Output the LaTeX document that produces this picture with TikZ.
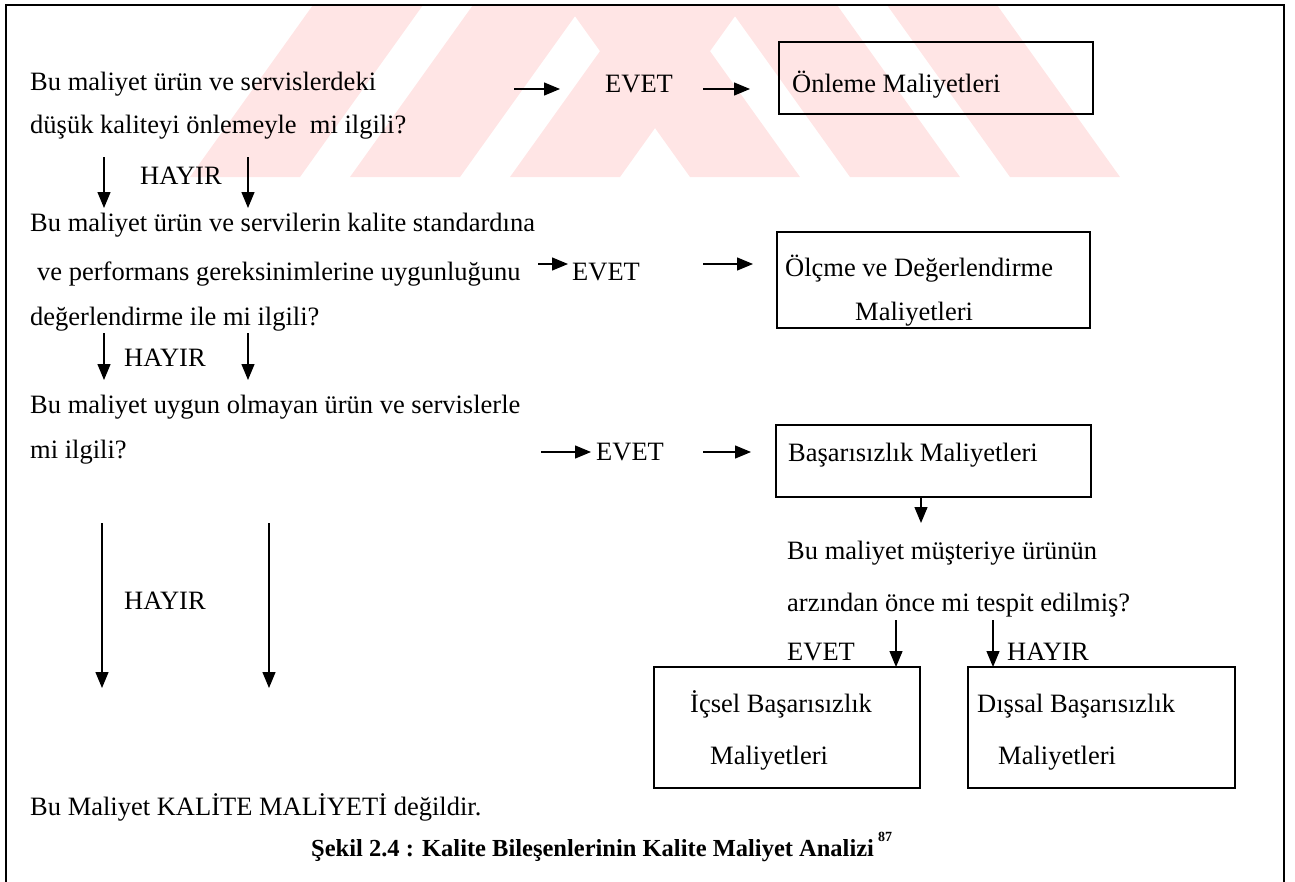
\documentclass[tikz,border=0pt]{standalone}
\usepackage{fontspec}
\setmainfont{Liberation Serif}
\usetikzlibrary{arrows.meta}
\begin{document}
\begin{tikzpicture}[x=1pt,y=-1pt,
  txt/.style={anchor=base west, inner sep=0pt, font=\fontsize{26.5}{31}\selectfont},
  capt/.style={anchor=base west, inner sep=0pt, font=\fontsize{24.5}{30}\selectfont\bfseries},
  box/.style={draw, line width=1.6pt},
  flow/.style={line width=1.3pt, -{Triangle[length=16pt,width=13pt]}},
  frameline/.style={line width=2pt},
  wmstripe/.style={fill=red!10}]
\useasboundingbox (0,0) rectangle (1295,881);

% faint background stripes
\foreach \l in {190,350,510}
  \fill[wmstripe] (\l,177) -- ++(110,0) -- ++(123,-172) -- ++(-110,0) -- cycle;
\foreach \r in {800,960,1120}
  \fill[wmstripe] (\r,177) -- ++(-110,0) -- ++(-123,-172) -- ++(110,0) -- cycle;

% outer frame (open at the bottom)
\draw[frameline] (6,900) -- (6,5) -- (1284,5) -- (1284,900);

% left column of questions
\node[txt] (q1a) at (30,90) {Bu maliyet ürün ve servislerdeki};
\node[txt] (q1b) at (30,133) {düşük kaliteyi önlemeyle\ \ mi ilgili?};
\node[txt] (h1) at (140,184) {HAYIR};
\node[txt] (q2a) at (30,231) {Bu maliyet ürün ve servilerin kalite standardına};
\node[txt] (q2b) at (37,280) {ve performans gereksinimlerine uygunluğunu};
\node[txt] (q2c) at (30,325) {değerlendirme ile mi ilgili?};
\node[txt] (h2) at (124,366) {HAYIR};
\node[txt] (q3a) at (30,413) {Bu maliyet uygun olmayan ürün ve servislerle};
\node[txt] (q3b) at (30,458) {mi ilgili?};
\node[txt] (h3) at (124,609) {HAYIR};
\node[txt] (none) at (30,815) {Bu Maliyet KALİTE MALİYETİ değildir.};

% YES labels
\node[txt] (e1) at (605,92) {EVET};
\node[txt] (e2) at (572,280) {EVET};
\node[txt] (e3) at (596,460) {EVET};

% cost boxes
\draw[box] (779,42) rectangle (1093,114);
\node[txt] (onl) at (792,92) {Önleme Maliyetleri};
\draw[box] (777,232) rectangle (1090,328);
\node[txt] (olc) at (785,276) {Ölçme ve Değerlendirme};
\node[txt] (olc2) at (855,320) {Maliyetleri};
\draw[box] (776,425) rectangle (1091,497);
\node[txt] (bas) at (788,461) {Başarısızlık Maliyetleri};

% failure sub-question
\node[txt] (q4a) at (787,559) {Bu maliyet müşteriye ürünün};
\node[txt] (q4b) at (787,611) {arzından önce mi tespit edilmiş?};
\node[txt] (e4) at (787,660) {EVET};
\node[txt] (h4) at (1007,660) {HAYIR};
\draw[box] (654,667) rectangle (920,788);
\node[txt] (ic) at (690,712) {İçsel Başarısızlık};
\node[txt] (ic2) at (710,764) {Maliyetleri};
\draw[box] (968,667) rectangle (1235,788);
\node[txt] (dis) at (977,712) {Dışsal Başarısızlık};
\node[txt] (dis2) at (998,764) {Maliyetleri};

% caption
\node[capt] (cap) at (311,856) {Şekil 2.4 : Kalite Bileşenlerinin Kalite Maliyet Analizi\,\raisebox{0.6em}{\fontsize{14}{14}\selectfont 87}};

% arrow end points
\coordinate (a1s) at (514,89); \coordinate (a1e) at (560,89);
\coordinate (a2s) at (703,89); \coordinate (a2e) at (750,89);
\coordinate (b1s) at (538,264); \coordinate (b1e) at (568,264);
\coordinate (b2s) at (703,264); \coordinate (b2e) at (753,264);
\coordinate (c1s) at (541,452); \coordinate (c1e) at (591,452);
\coordinate (c2s) at (703,452); \coordinate (c2e) at (751,452);
\coordinate (d1s) at (104,157); \coordinate (d1e) at (104,208);
\coordinate (d2s) at (248,157); \coordinate (d2e) at (248,208);
\coordinate (d3s) at (104,333); \coordinate (d3e) at (104,380);
\coordinate (d4s) at (248,333); \coordinate (d4e) at (248,380);
\coordinate (d5s) at (102,523); \coordinate (d5e) at (102,688);
\coordinate (d6s) at (269,523); \coordinate (d6e) at (269,688);
\coordinate (f0s) at (921,497); \coordinate (f0e) at (921,523);
\coordinate (f1s) at (896,620); \coordinate (f1e) at (896,667);
\coordinate (f2s) at (993,620); \coordinate (f2e) at (993,667);

\foreach \s/\e in {a1s/a1e,a2s/a2e,b1s/b1e,b2s/b2e,c1s/c1e,c2s/c2e,
                   d1s/d1e,d2s/d2e,d3s/d3e,d4s/d4e,d5s/d5e,d6s/d6e,
                   f0s/f0e,f1s/f1e,f2s/f2e}
  \draw[flow] (\s) -- (\e);
\end{tikzpicture}
\end{document}
